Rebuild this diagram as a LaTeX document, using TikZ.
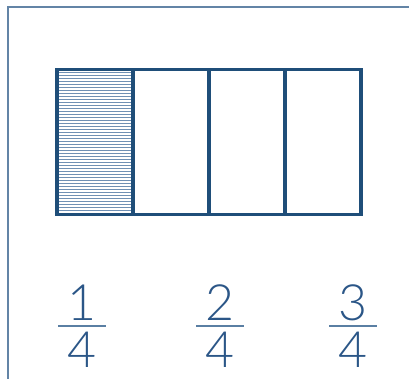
\documentclass[tikz,border=0pt]{standalone}
\usepackage{fontspec}
\newfontfamily\thinfont{Lato Light}
\definecolor{framec}{HTML}{6384A6}
\definecolor{boxc}{HTML}{1F4E79}
\definecolor{hatchc}{HTML}{6F90B4}
\definecolor{digitc}{HTML}{2B5687}
\definecolor{barc}{HTML}{5A7FA3}
\begin{document}
\begin{tikzpicture}[x=1pt,y=-1pt,
  cell/.style={draw=boxc,line width=3.5pt},
  digit/.style={text=digitc,font=\thinfont\fontsize{50}{50}\selectfont,inner sep=0pt,anchor=center},
  fbar/.style={draw=barc,line width=1.8pt}]
\useasboundingbox (0,0) rectangle (409,379);
\draw[framec,line width=2pt] (7.5,379) -- (7.5,7.5) -- (409,7.5);
% hatching
\foreach \y in {73,76,...,212} {\draw[hatchc,line width=1pt] (59,\y) -- (131,\y);}
\node[cell,minimum width=76pt,minimum height=145pt,inner sep=0pt] (c1) at (95,142) {};
\node[cell,minimum width=76pt,minimum height=145pt,inner sep=0pt] (c2) at (171,142) {};
\node[cell,minimum width=76pt,minimum height=145pt,inner sep=0pt] (c3) at (247,142) {};
\node[cell,minimum width=76pt,minimum height=145pt,inner sep=0pt] (c4) at (323,142) {};
% fractions
\foreach \n/\x/\d in {a/82/1,b/220/2,c/353/3} {
  \node[digit] (n\n) at (\x,303) {\d};
  \node[digit] (d\n) at (\x,350) {4};
  \coordinate (l\n) at (\x-24,326);
  \coordinate (r\n) at (\x+24,326);
  \draw[fbar] (l\n) -- (r\n);
}
\end{tikzpicture}
\end{document}
